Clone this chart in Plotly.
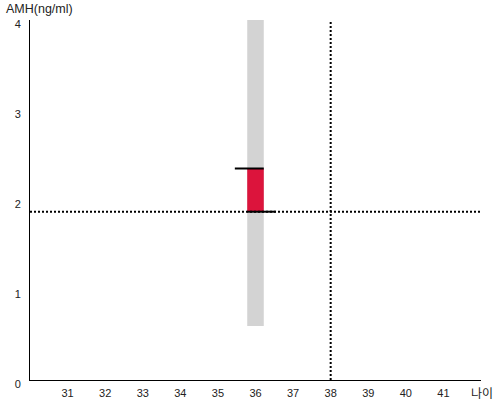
import plotly.graph_objects as go

# data
age = [36]
amh_low = [1.87]
amh_high = [2.35]
range_low = [0.6]
range_high = [4.0]
ref_age = 38
ref_amh = 1.87
x_ticks = [31, 32, 33, 34, 35, 36, 37, 38, 39, 40, 41]
y_ticks = [0, 1, 2, 3, 4]

BAR_W = 0.44
FONT = "Liberation Sans, Arial, sans-serif"

fig = go.Figure()
fig.add_trace(go.Bar(x=age, y=[range_high[0] - range_low[0]], base=range_low,
                     width=BAR_W, marker=dict(color="#d3d3d3", line=dict(width=0)),
                     hoverinfo="skip"))
fig.add_trace(go.Bar(x=age, y=[amh_high[0] - amh_low[0]], base=amh_low,
                     width=BAR_W, marker=dict(color="#dc143c", line=dict(width=0)),
                     hoverinfo="skip"))
# reference dotted lines
fig.add_trace(go.Scatter(x=[30, 42], y=[ref_amh, ref_amh], mode="lines",
                         line=dict(color="black", width=2, dash="2px,2px"), hoverinfo="skip"))
fig.add_trace(go.Scatter(x=[ref_age, ref_age], y=[0, 4], mode="lines",
                         line=dict(color="black", width=2, dash="2px,2px"), hoverinfo="skip"))
# caps
fig.add_trace(go.Scatter(x=[age[0] - BAR_W / 2 - 0.33, age[0] + BAR_W / 2], y=[amh_high[0]] * 2,
                         mode="lines", line=dict(color="black", width=2), hoverinfo="skip"))
fig.add_trace(go.Scatter(x=[age[0] - BAR_W / 2, age[0] + BAR_W / 2 + 0.32], y=[amh_low[0]] * 2,
                         mode="lines", line=dict(color="black", width=2), hoverinfo="skip"))

fig.update_layout(
    width=500, height=400, showlegend=False, barmode="overlay",
    margin=dict(l=30, r=19, t=20, b=20, autoexpand=False),
    paper_bgcolor="white", plot_bgcolor="white",
    font=dict(family=FONT, size=11, color="black"),
    xaxis=dict(range=[30, 42], tickvals=x_ticks, showgrid=False, zeroline=False,
               showline=True, linecolor="black", linewidth=1, ticks="",
               ticklabelstandoff=3, tickfont=dict(size=11, color="#222"),
               automargin=False, fixedrange=True),
    yaxis=dict(range=[0, 4], tickvals=y_ticks, showgrid=False, zeroline=False,
               showline=True, linecolor="black", linewidth=1, ticks="",
               ticklabelstandoff=6, ticklabelshift=4, tickfont=dict(size=11, color="#222"),
               automargin=False, fixedrange=True),
    annotations=[
        dict(text="AMH(ng/ml)", xref="paper", yref="paper", x=-0.058, y=1.03,
             xanchor="left", yanchor="middle", showarrow=False, font=dict(size=12.5, color="#222")),
        dict(text="나이", xref="paper", yref="paper", x=1.031, y=-0.036,
             xanchor="right", yanchor="middle", showarrow=False,
             font=dict(size=12, family="Noto Sans CJK KR", color="#222")),
    ],
)
fig.write_html("out.html", config={"displayModeBar": False},
               post_script="document.body.style.margin='0';")
